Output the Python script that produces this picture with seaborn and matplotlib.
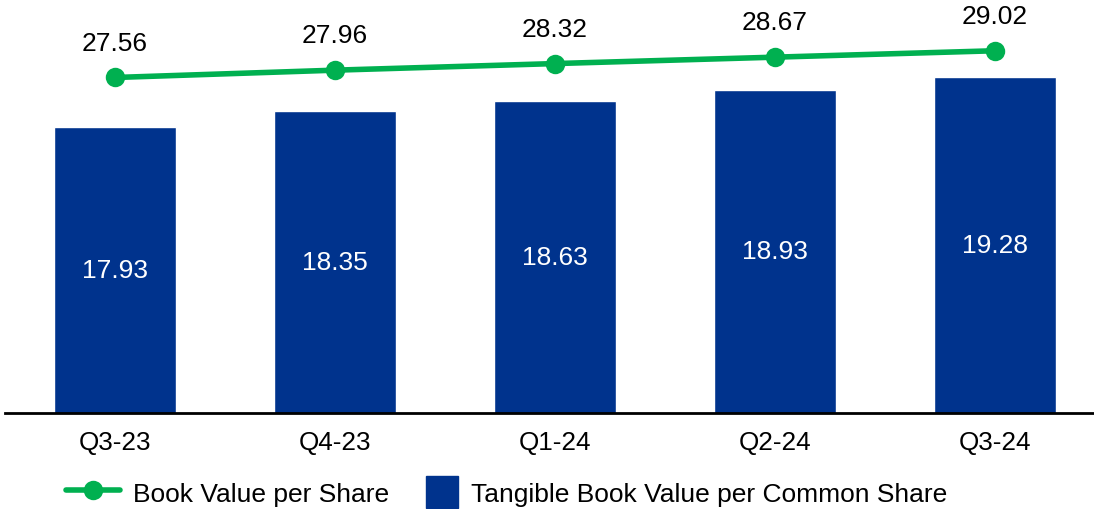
import numpy as np
import pandas as pd
import seaborn as sns
import matplotlib.pyplot as plt
import matplotlib.patches as mpatches
from matplotlib.legend_handler import HandlerPatch

quarters = ["Q3-23", "Q4-23", "Q1-24", "Q2-24", "Q3-24"]
tbvps = [17.93, 18.35, 18.63, 18.93, 19.28]
bvps = [27.56, 27.96, 28.32, 28.67, 29.02]

blue = "#00338D"
green = "#00B050"

sns.set_style("white")
plt.rcParams['font.family'] = ['Liberation Sans', 'DejaVu Sans']
plt.rcParams['text.color'] = 'black'
plt.rcParams['xtick.color'] = 'black'

df = pd.DataFrame({"quarter": quarters, "tbvps": tbvps, "bvps": bvps})

fig = plt.figure(figsize=(10.94, 5.10), dpi=100)
# axes placed in pixels: baseline at y=414, left edge at x=5
ax = fig.add_axes([5 / 1094, (510 - 414) / 510, 1100 / 1094, 404 / 510])

sns.barplot(x="quarter", y="tbvps", data=df, color=blue, width=0.555,
            saturation=1, ax=ax)
ax.set_ylim(10.21, 21.11)
ax.set_xlim(-0.5, 4.5)

for i, v in enumerate(tbvps):
    ax.text(i, (10.21 + v) / 2, "{:.2f}".format(v), ha="center", va="center",
            color="white", fontsize=19)

ax2 = ax.twinx()
sns.lineplot(x=np.arange(len(quarters)), y=bvps, ax=ax2, color=green, linewidth=4,
             marker="o", markersize=14, markeredgewidth=0, label="Book Value per Share",
             legend=False)
ax2.set_ylim(9.24, 31.3)
for i, v in enumerate(bvps):
    ax2.annotate("{:.2f}".format(v), (i, v), xytext=(0, 25), textcoords="offset points",
                 ha="center", va="center", fontsize=19)

for a in (ax, ax2):
    for s in ["top", "right", "left"]:
        a.spines[s].set_visible(False)
    a.set_yticks([])
    a.set_ylabel("")
ax2.spines["bottom"].set_visible(False)
ax.spines["bottom"].set_color("black")
ax.spines["bottom"].set_linewidth(2)
ax.set_xlabel("")
ax.tick_params(axis="x", length=0, labelsize=18.8, pad=12)


def square_handle(legend, orig_handle, xdescent, ydescent, width, height, fontsize):
    side = 23
    return mpatches.Rectangle((width - side - xdescent, -ydescent + (height - side) / 2),
                              side, side)


h1, l1 = ax2.get_legend_handles_labels()
bar_handle = mpatches.Patch(color=blue)
fig.legend(h1 + [bar_handle], l1 + ["Tangible Book Value per Common Share"],
           loc="center", bbox_to_anchor=(0.463, (510 - 493) / 510), ncol=2,
           frameon=False, fontsize=19, handlelength=2.05, handleheight=1.2,
           columnspacing=0.55, handletextpad=0.5,
           handler_map={mpatches.Patch: HandlerPatch(patch_func=square_handle)})

plt.savefig("out.png", dpi=100)
